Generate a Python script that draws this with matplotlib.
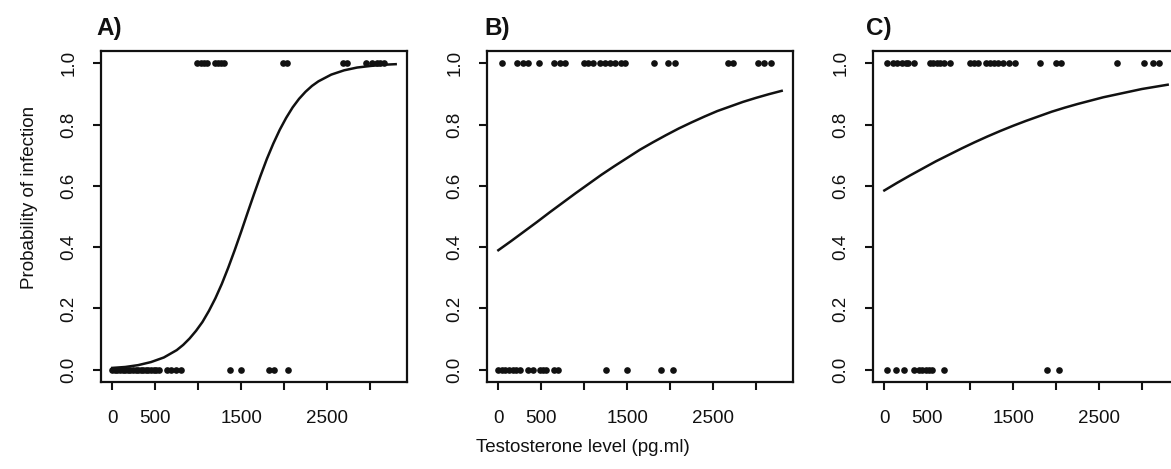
import matplotlib
matplotlib.use("Agg")
import matplotlib.pyplot as plt

plt.rcParams['font.family'] = ['Liberation Sans', 'DejaVu Sans']

# ---------------- data ----------------
panel_labels = ["A)", "B)", "C)"]

# observed points (testosterone, pg/ml) at infection = 1 and infection = 0
a_inf = [990, 1030, 1070, 1100, 1190, 1230, 1270, 1300, 1990, 2030,
         2690, 2730, 2950, 3030, 3080, 3120, 3160]
a_uninf = [0, 30, 60, 90, 120, 150, 180, 210, 240, 270, 300, 330, 360,
           390, 420, 450, 480, 510, 540, 640, 680, 740, 800,
           1370, 1500, 1820, 1880, 2050]

b_inf = [40, 220, 290, 350, 470, 650, 720, 780, 1000, 1050, 1100, 1180,
         1240, 1300, 1360, 1430, 1480, 1810, 1980, 2060, 2680, 2730,
         3030, 3100, 3170]
b_uninf = [0, 40, 80, 120, 170, 210, 250, 340, 400, 480, 520, 560,
           650, 700, 1250, 1500, 1890, 2030]

c_inf = [30, 100, 150, 200, 250, 280, 350, 530, 570, 610, 650, 700, 760,
         1000, 1050, 1090, 1180, 1230, 1280, 1320, 1380, 1450, 1520,
         1810, 2000, 2060, 2710, 3020, 3130, 3200]
c_uninf = [30, 140, 230, 350, 400, 440, 480, 520, 550, 690, 1900, 2035]

# fitted curves, values
a_curve_x = [0, 150, 300, 450, 600, 750, 825, 900, 975, 1050, 1125, 1200,
             1275, 1350, 1425, 1500, 1575, 1650, 1725, 1800, 1875, 1950,
             2025, 2100, 2175, 2250, 2325, 2400, 2550, 2700, 2850, 3000,
             3150, 3300]
a_curve = [0.006, 0.009, 0.015, 0.025, 0.040, 0.064, 0.081, 0.102, 0.127,
           0.156, 0.192, 0.233, 0.280, 0.333, 0.390, 0.450, 0.512, 0.573,
           0.632, 0.688, 0.738, 0.783, 0.822, 0.856, 0.884, 0.907, 0.926,
           0.941, 0.963, 0.977, 0.986, 0.991, 0.995, 0.997]

curve_x = [0, 150, 300, 450, 600, 750, 900, 1050, 1200, 1350, 1500, 1650,
           1800, 1950, 2100, 2250, 2400, 2550, 2700, 2850, 3000, 3150, 3300]
b_curve = [0.390, 0.420, 0.451, 0.482, 0.514, 0.545, 0.576, 0.606, 0.636,
           0.664, 0.691, 0.718, 0.742, 0.765, 0.787, 0.807, 0.826, 0.844,
           0.859, 0.874, 0.887, 0.899, 0.910]
c_curve = [0.585, 0.610, 0.634, 0.657, 0.680, 0.701, 0.722, 0.742, 0.761,
           0.779, 0.796, 0.812, 0.827, 0.842, 0.855, 0.867, 0.878, 0.889,
           0.898, 0.907, 0.916, 0.923, 0.930]

x_ticks = [0, 500, 1000, 1500, 2000, 2500, 3000]
x_ticklabels = ["0", "500", "", "1500", "", "2500", ""]
y_ticks = [0.0, 0.2, 0.4, 0.6, 0.8, 1.0]
y_ticklabels = ["0.0", "0.2", "0.4", "0.6", "0.8", "1.0"]

panels = [(a_inf, a_uninf, a_curve_x, a_curve),
          (b_inf, b_uninf, curve_x, b_curve),
          (c_inf, c_uninf, curve_x, c_curve)]

# ---------------- layout ----------------
W, H = 1171, 469
fig = plt.figure(figsize=(W / 100, H / 100), dpi=100)
ink = "#111111"
lefts_px = [101, 487, 873]
top_px, bot_px, width_px = 51, 382, 306
label_x_px = [96, 484, 866]

for i, (inf, uninf, cx, curve) in enumerate(panels):
    ax = fig.add_axes([lefts_px[i] / W, 1 - bot_px / H, width_px / W,
                       (bot_px - top_px) / H])
    ax.plot(cx, curve, color=ink, lw=1.8, solid_joinstyle='round')
    ax.plot(inf, [1] * len(inf), 'o', color=ink, ms=4.8, mew=0)
    ax.plot(uninf, [0] * len(uninf), 'o', color=ink, ms=4.8, mew=0)
    ax.set_xlim(-132, 3432)
    ax.set_ylim(-0.04, 1.04)
    ax.set_xticks(x_ticks)
    ax.set_xticklabels(x_ticklabels)
    ax.set_yticks(y_ticks)
    ax.set_yticklabels(y_ticklabels, rotation=90, va='center')
    ax.tick_params(axis='both', length=6, width=1.5, color=ink,
                   labelsize=13.5, labelcolor=ink)
    ax.tick_params(axis='x', pad=14)
    ax.tick_params(axis='y', pad=11)
    for s in ax.spines.values():
        s.set_linewidth(1.6)
        s.set_color(ink)
    fig.text(label_x_px[i] / W, 1 - 29 / H, panel_labels[i], fontsize=17.5,
             fontweight='bold', ha='left', va='center', color=ink)

fig.text(30 / W, 1 - 197 / H, "Probability of infection", rotation=90,
         ha='center', va='center', fontsize=13.5, color=ink)
fig.text(583 / W, 1 - 447 / H, "Testosterone level (pg.ml)",
         ha='center', va='center', fontsize=13.5, color=ink)

fig.savefig("out.png", dpi=100)
